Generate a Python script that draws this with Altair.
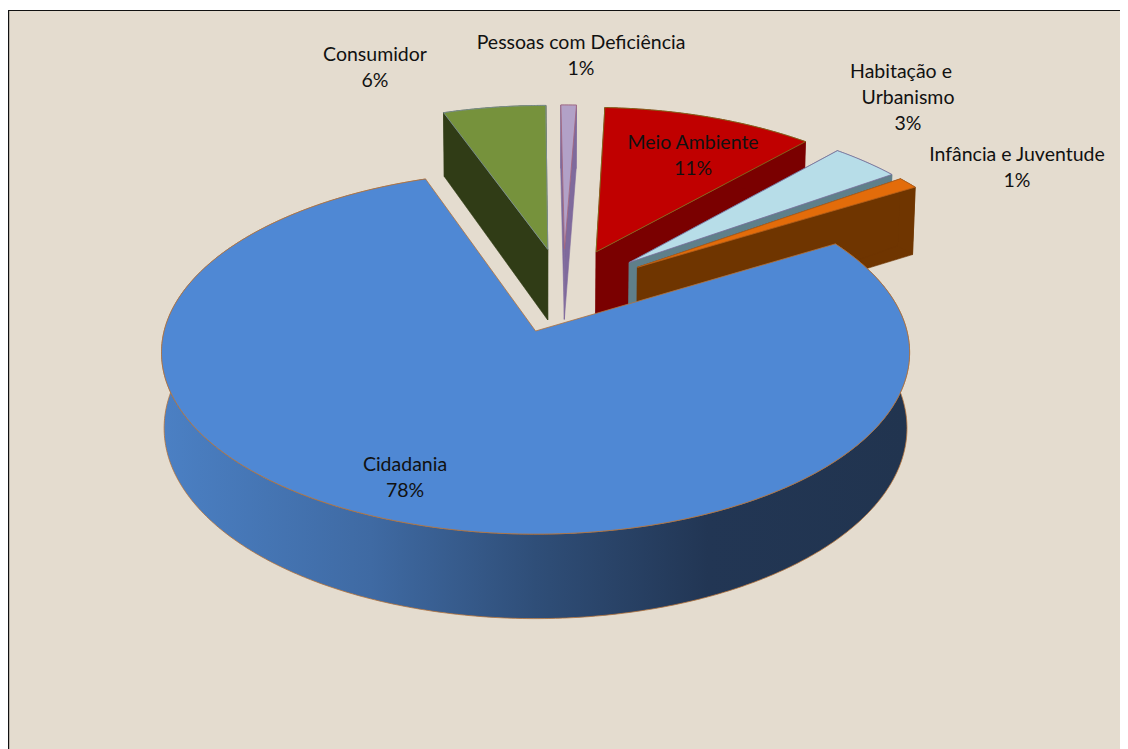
import math
import numpy as np
import pandas as pd
import altair as alt

# ---- values (percent, clockwise from Cidadania) ----
names = ["Cidadania", "Consumidor", "Pessoas com Deficiência", "Meio Ambiente",
         "Habitação e Urbanismo", "Infância e Juventude"]
values = [78.3, 5.3, 0.8, 10.9, 3.6, 1.1]
top_colors = ["#4F88D4", "#76923C", "#B2A1C7", "#C00000", "#B7DDE8", "#E36C0A"]
wall_colors = ["#2F4E78", "#303C16", "#7F6A9C", "#7A0000", "#5F7F8A", "#6F3500"]
edge_colors = ["#B4723A", "#7F93A0", "#A5657A", "#7E7A20", "#7A6C9C", "#B4601A"]

label_text = ["Consumidor", "6%", "Pessoas com Deficiência", "1%", "Meio Ambiente", "11%",
              "Habitação e", "Urbanismo", "3%", "Infância e Juventude", "1%", "Cidadania", "78%"]
label_x = [375, 375, 581, 581, 693, 693, 901, 908, 908, 1017, 1017, 405, 405]
label_y = [55, 81, 43, 69, 143, 169, 72, 98, 124, 155, 181, 465, 491]

W, H = 1112, 741
X0, Y0 = 8, 8
START = 58.9      # clock angle where the first slice begins
EXPLODE = 0.25
CENTER = (0.077, -0.235)
CX, CY, SX, SY, PERSP = 535.5, 331.0, 371.4, 179.0, -0.1185
DEPTH = 74.5
MAIN_SHIFT_U = 0.008   # the large slice keeps its own apex
SIDE_RADIUS = 0.985    # exploded slices are a touch narrower sideways


def project(u, v, lower=False):
    w = 1 + PERSP * v
    x = CX + SX * u / w
    y = CY + SY * v / w
    if lower:
        x = CX + (x - CX) * 0.993
        y = y + DEPTH / w
    return x, y


def slice_faces(start, sweep, main=False):
    mid = math.radians(start + sweep / 2)
    au = CENTER[0] + EXPLODE * math.sin(mid) + (MAIN_SHIFT_U if main else 0.0)
    av = CENTER[1] - EXPLODE * math.cos(mid)
    th = np.radians(np.linspace(start, start + sweep, max(int(sweep * 2), 3)))
    ru = au + (1.0 if main else SIDE_RADIUS) * np.sin(th)
    rv = av - np.cos(th)
    rim = [project(a, b) for a, b in zip(ru, rv)]
    rim_low = [project(a, b, True) for a, b in zip(ru, rv)]
    apex = project(au, av)
    apex_low = project(au, av, True)
    return {
        "wall_a": [apex, rim[0], rim_low[0], apex_low],
        "wall_b": [apex, rim[-1], rim_low[-1], apex_low],
        "outer": rim + rim_low[::-1],
        "top": [apex] + rim,
    }


X_SCALE = alt.Scale(domain=[X0, X0 + W], range=[0, W], nice=False, zero=False)
Y_SCALE = alt.Scale(domain=[Y0, Y0 + H], range=[0, H], nice=False, zero=False)


def poly(points, fill, stroke, width=0.8):
    df = pd.DataFrame(points, columns=["x", "y"])
    df["i"] = range(len(df))
    return alt.Chart(df).mark_line(
        fill=fill, stroke=stroke, strokeWidth=width, interpolate="linear-closed"
    ).encode(
        x=alt.X("x:Q", scale=X_SCALE, axis=None),
        y=alt.Y("y:Q", scale=Y_SCALE, axis=None),
        order="i:Q",
    )


frame = alt.Chart(pd.DataFrame({"x": [8.6], "x2": [1140.0], "y": [10.5], "y2": [760.0]})).mark_rect(
    fill="#E4DCCF", stroke="#111111", strokeWidth=1.2
).encode(
    x=alt.X("x:Q", scale=X_SCALE, axis=None), x2="x2:Q",
    y=alt.Y("y:Q", scale=Y_SCALE, axis=None), y2="y2:Q",
)

wall_gradient = alt.Gradient(
    gradient="linear", x1=0, x2=1, y1=0, y2=0,
    stops=[
        alt.GradientStop(color="#4B80C4", offset=0),
        alt.GradientStop(color="#3F6AA3", offset=0.28),
        alt.GradientStop(color="#2F4E78", offset=0.5),
        alt.GradientStop(color="#223654", offset=0.73),
        alt.GradientStop(color="#21344F", offset=1),
    ],
)

angles = []
a = START
for val in values:
    angles.append((a, val * 3.6))
    a += val * 3.6

layers = [frame]
for i in [1, 2, 3, 4, 5, 0]:
    faces = slice_faces(*angles[i], main=(i == 0))
    if i == 0:
        layers.append(poly(faces["outer"], wall_gradient, edge_colors[0], 0.8))
    else:
        layers.append(poly(faces["wall_b"], wall_colors[i], wall_colors[i], 0.6))
        layers.append(poly(faces["outer"], wall_colors[i], wall_colors[i], 0.6))
        layers.append(poly(faces["wall_a"], wall_colors[i], wall_colors[i], 0.6))
    layers.append(poly(faces["top"], top_colors[i], edge_colors[i], 0.8))

labels = alt.Chart(pd.DataFrame({"t": label_text, "x": label_x, "y": label_y})).mark_text(
    font="Lato", fontSize=19.5, color="#111111", align="center", baseline="middle"
).encode(
    x=alt.X("x:Q", scale=X_SCALE, axis=None),
    y=alt.Y("y:Q", scale=Y_SCALE, axis=None),
    text="t:N",
)
layers.append(labels)

chart = alt.layer(*layers).properties(
    width=W, height=H, padding=0, background="white",
    autosize=alt.AutoSizeParams(type="none"),
).configure_view(stroke=None)

chart.save("out.html", embed_options={"renderer": "svg", "actions": False})
